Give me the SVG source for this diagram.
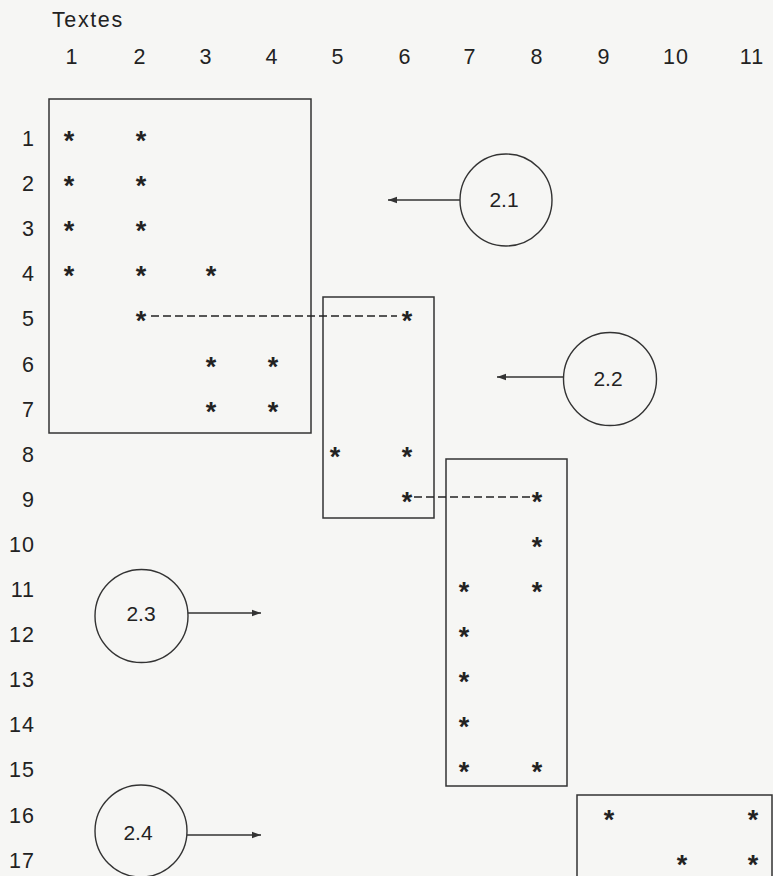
<svg xmlns="http://www.w3.org/2000/svg" width="773" height="876" viewBox="0 0 773 876">
<defs>
<style>
.t{font-family:"Liberation Sans",Arial,sans-serif;font-size:21.5px;fill:#222;letter-spacing:1px}
.h{text-anchor:middle}
.r{text-anchor:end}
.s{font-family:"Liberation Sans",Arial,sans-serif;font-size:27px;font-weight:bold;fill:#222;text-anchor:middle}
.c{font-family:"Liberation Sans",Arial,sans-serif;font-size:21px;fill:#222;text-anchor:middle;dominant-baseline:central}
.box{fill:none;stroke:#333;stroke-width:1.5}
.circ{fill:none;stroke:#333;stroke-width:1.4}
.arr{stroke:#333;stroke-width:1.3;fill:none;marker-end:url(#ah)}
.dash{stroke:#222;stroke-width:1.7;fill:none;stroke-dasharray:8 4}
</style>
<marker id="ah" markerUnits="userSpaceOnUse" markerWidth="10" markerHeight="8" refX="9" refY="4" orient="auto">
<path d="M0,0.8 L9,4 L0,7.2 Z" fill="#333"/>
</marker>
</defs>
<rect width="773" height="876" fill="#f6f6f4"/>

<g id="header">
<text class="t" x="52" y="27" style="letter-spacing:1.6px">Textes</text>
<text class="t h" x="72" y="64">1</text>
<text class="t h" x="140" y="64">2</text>
<text class="t h" x="206" y="64">3</text>
<text class="t h" x="272" y="64">4</text>
<text class="t h" x="338" y="64">5</text>
<text class="t h" x="405" y="64">6</text>
<text class="t h" x="470" y="64">7</text>
<text class="t h" x="537" y="64">8</text>
<text class="t h" x="604" y="64">9</text>
<text class="t h" x="676" y="64">10</text>
<text class="t h" x="752" y="64">11</text>
</g>

<g id="rows">
<text class="t r" x="35" y="146">1</text>
<text class="t r" x="35" y="191.1">2</text>
<text class="t r" x="35" y="236.2">3</text>
<text class="t r" x="35" y="281.3">4</text>
<text class="t r" x="35" y="326.4">5</text>
<text class="t r" x="35" y="371.5">6</text>
<text class="t r" x="35" y="416.6">7</text>
<text class="t r" x="35" y="461.7">8</text>
<text class="t r" x="35" y="506.8">9</text>
<text class="t r" x="35" y="551.9">10</text>
<text class="t r" x="35" y="597">11</text>
<text class="t r" x="35" y="642.1">12</text>
<text class="t r" x="35" y="687.2">13</text>
<text class="t r" x="35" y="732.3">14</text>
<text class="t r" x="35" y="777.4">15</text>
<text class="t r" x="35" y="822.5">16</text>
<text class="t r" x="35" y="867.6">17</text>
</g>

<g id="box1">
<rect class="box" x="49" y="99" width="262" height="334"/>
<text class="s" x="69" y="150">*</text><text class="s" x="141" y="150">*</text>
<text class="s" x="69" y="195.1">*</text><text class="s" x="141" y="195.1">*</text>
<text class="s" x="69" y="240.2">*</text><text class="s" x="141" y="240.2">*</text>
<text class="s" x="69" y="285.3">*</text><text class="s" x="141" y="285.3">*</text><text class="s" x="211" y="285.3">*</text>
<text class="s" x="141" y="330.4">*</text>
<text class="s" x="211" y="375.5">*</text><text class="s" x="273" y="375.5">*</text>
<text class="s" x="211" y="420.6">*</text><text class="s" x="273" y="420.6">*</text>
</g>

<g id="box2">
<rect class="box" x="323" y="297" width="111" height="221"/>
<text class="s" x="407" y="330.4">*</text>
<text class="s" x="335" y="465.7">*</text><text class="s" x="407" y="465.7">*</text>
<text class="s" x="407" y="510.8">*</text>
</g>

<g id="box3">
<rect class="box" x="446" y="459" width="121" height="327"/>
<text class="s" x="537" y="510.8">*</text>
<text class="s" x="537" y="555.9">*</text>
<text class="s" x="464" y="601">*</text><text class="s" x="537" y="601">*</text>
<text class="s" x="464" y="646.1">*</text>
<text class="s" x="464" y="691.2">*</text>
<text class="s" x="464" y="736.3">*</text>
<text class="s" x="464" y="781.4">*</text><text class="s" x="537" y="781.4">*</text>
</g>

<g id="box4">
<rect class="box" x="577" y="795" width="195" height="100"/>
<text class="s" x="609" y="828.5">*</text><text class="s" x="753" y="828.5">*</text>
<text class="s" x="682" y="873.6">*</text><text class="s" x="753" y="873.6">*</text>
</g>

<g id="n21">
<circle class="circ" cx="506" cy="200" r="46"/>
<text class="c" x="504" y="199">2.1</text>
</g>
<g id="n22">
<circle class="circ" cx="610" cy="379" r="46.5"/>
<text class="c" x="608" y="378">2.2</text>
</g>
<g id="n23">
<circle class="circ" cx="141.5" cy="616" r="46.5"/>
<text class="c" x="141" y="613">2.3</text>
</g>
<g id="n24">
<circle class="circ" cx="141" cy="831" r="46"/>
<text class="c" x="138" y="832">2.4</text>
</g>

<g id="connectors">
<line class="arr" x1="460" y1="200" x2="388" y2="200"/>
<line class="arr" x1="563.5" y1="377" x2="497" y2="377"/>
<line class="arr" x1="188" y1="613" x2="261" y2="613"/>
<line class="arr" x1="187" y1="835" x2="261" y2="835"/>
<line class="dash" x1="151" y1="316" x2="397" y2="316"/>
<line class="dash" x1="414" y1="497" x2="531" y2="497"/>
</g>
</svg>
